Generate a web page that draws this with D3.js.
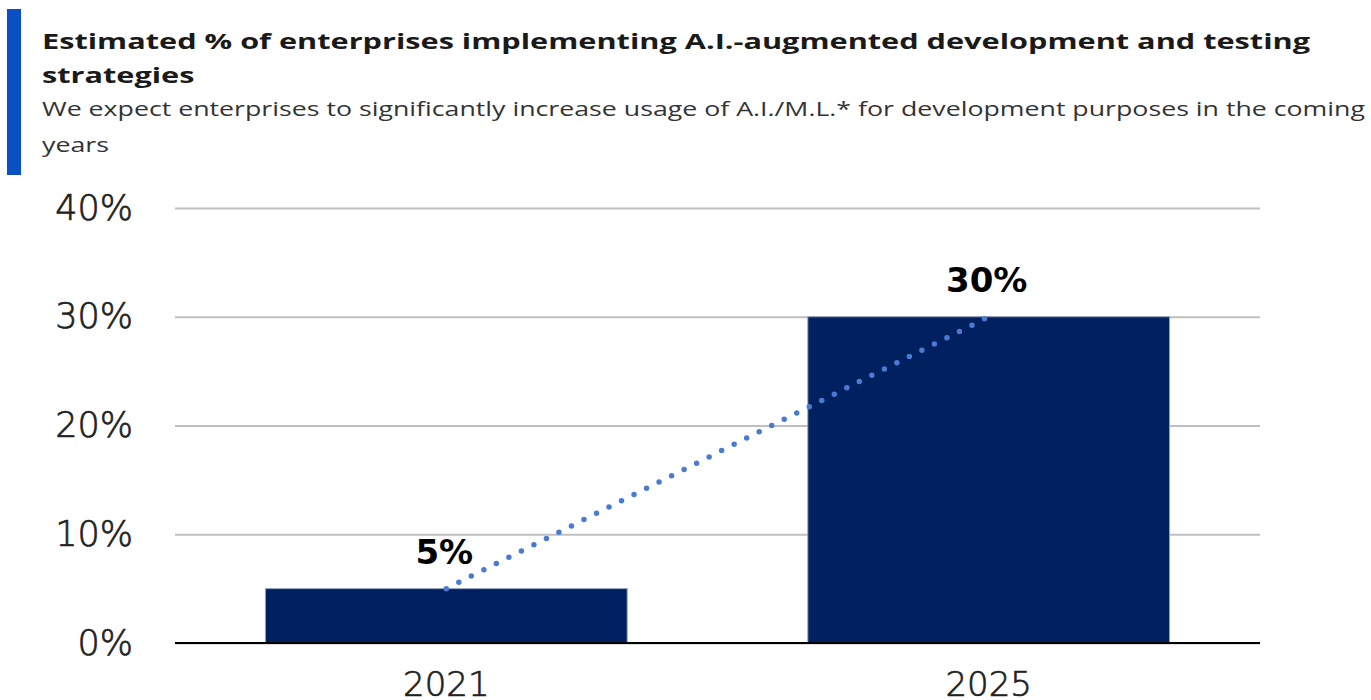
<!DOCTYPE html>
<html>
<head>
<meta charset="utf-8">
<script src="https://cdn.jsdelivr.net/npm/d3@7"></script>
<style>
  body { margin: 0; background: #fff; }
  svg { display: block; }
</style>
</head>
<body>
<div id="chart"></div>
<script>
// data
const years = ['2021', '2025']
const shares = [0.05, 0.30]
const yTicks = [0, 0.1, 0.2, 0.3, 0.4]
const titleLines = ['Estimated % of enterprises implementing A.I.-augmented development and testing', 'strategies']
const subtitleLines = ['We expect enterprises to significantly increase usage of A.I./M.L.* for development purposes in the coming', 'years']

const width = 1371
const height = 700
const margin = { top: 208, right: 111, bottom: 57, left: 175 }
const innerW = width - margin.left - margin.right
const innerH = height - margin.top - margin.bottom

const svg = d3.select('#chart')
  .append('svg')
  .attr('width', width)
  .attr('height', height)

// header with blue accent bar
svg.append('rect')
  .attr('x', 7).attr('y', 9)
  .attr('width', 14).attr('height', 166)
  .attr('fill', '#0a4fc4')

const titleFont = '"Open Sans", "Noto Sans", sans-serif'

// stretch the wrapped lines the same way as the first line
function fitLines(sel, firstWidth) {
  const nodes = sel.nodes()
  const ratio = firstWidth / nodes[0].getComputedTextLength()
  nodes.forEach(n => {
    d3.select(n)
      .attr('textLength', n.getComputedTextLength() * ratio)
      .attr('lengthAdjust', 'spacingAndGlyphs')
  })
}

const title = svg.selectAll('.title')
  .data(titleLines)
  .enter()
  .append('text')
  .attr('class', 'title')
  .attr('x', 42)
  .attr('y', (d, i) => 49 + i * 34)
  .attr('font-family', titleFont)
  .attr('font-weight', 700)
  .attr('font-size', 22)
  .attr('fill', '#1a1a1a')
  .text(d => d)
fitLines(title, 1268)

const subtitle = svg.selectAll('.subtitle')
  .data(subtitleLines)
  .enter()
  .append('text')
  .attr('class', 'subtitle')
  .attr('x', 42)
  .attr('y', (d, i) => 116 + i * 36)
  .attr('font-family', titleFont)
  .attr('font-size', 19.5)
  .attr('fill', '#333')
  .text(d => d)
fitLines(subtitle, 1323)

const g = svg.append('g')
  .attr('transform', `translate(${margin.left},${margin.top})`)

const x = d3.scaleBand()
  .domain(years)
  .range([0, innerW])
  .paddingInner(0.333)
  .paddingOuter(0.1667)

const y = d3.scaleLinear()
  .domain([0, 0.4])
  .range([innerH, 0])

// gridlines + y labels
const yAxis = g.append('g')
  .attr('class', 'y-axis')
  .call(d3.axisLeft(y)
    .tickValues(yTicks)
    .tickFormat(d3.format('.0%'))
    .tickSizeInner(-innerW)
    .tickSizeOuter(0)
    .tickPadding(42))
yAxis.select('.domain').remove()
yAxis.selectAll('.tick line')
  .attr('stroke', '#bfbfbf')
  .attr('stroke-width', 2)
yAxis.selectAll('.tick text')
  .attr('font-family', '"DejaVu Sans", sans-serif')
  .attr('font-weight', 300)
  .attr('font-size', 35)
  .attr('fill', '#222')
  .attr('stroke', '#222')
  .attr('stroke-width', 0.7)

// bars
g.selectAll('.bar')
  .data(shares)
  .enter()
  .append('rect')
  .attr('class', 'bar')
  .attr('x', (d, i) => x(years[i]))
  .attr('y', d => y(d))
  .attr('width', x.bandwidth())
  .attr('height', d => y(0) - y(d))
  .attr('fill', '#002060')
  .attr('stroke', '#9aa4bf')
  .attr('stroke-width', 1)

// baseline
g.append('line')
  .attr('x1', 0).attr('x2', innerW)
  .attr('y1', y(0)).attr('y2', y(0))
  .attr('stroke', '#000')
  .attr('stroke-width', 2)

// dotted trend line joining bar tops
const line = d3.line()
  .x((d, i) => x(years[i]) + x.bandwidth() / 2)
  .y(d => y(d))

g.append('path')
  .datum(shares)
  .attr('d', line)
  .attr('fill', 'none')
  .attr('stroke', '#4a7bd0')
  .attr('stroke-width', 5.5)
  .attr('stroke-linecap', 'round')
  .attr('stroke-dasharray', '0 14')

// value labels
g.selectAll('.value')
  .data(shares)
  .enter()
  .append('text')
  .attr('class', 'value')
  .attr('x', (d, i) => x(years[i]) + x.bandwidth() / 2 - 2)
  .attr('y', d => y(d) - 25)
  .attr('text-anchor', 'middle')
  .attr('font-family', '"DejaVu Sans", sans-serif')
  .attr('font-weight', 700)
  .attr('font-size', 34)
  .attr('fill', '#000')
  .text(d => d3.format('.0%')(d))

// x labels
const xAxis = g.append('g')
  .attr('transform', `translate(0,${innerH})`)
  .call(d3.axisBottom(x).tickSize(0))
xAxis.select('.domain').remove()
xAxis.selectAll('.tick text')
  .attr('dy', 0)
  .attr('y', 53)
  .attr('font-family', '"DejaVu Sans", sans-serif')
  .attr('font-weight', 300)
  .attr('font-size', 34)
  .attr('fill', '#222')
  .attr('stroke', '#222')
  .attr('stroke-width', 0.7)
</script>
</body>
</html>
